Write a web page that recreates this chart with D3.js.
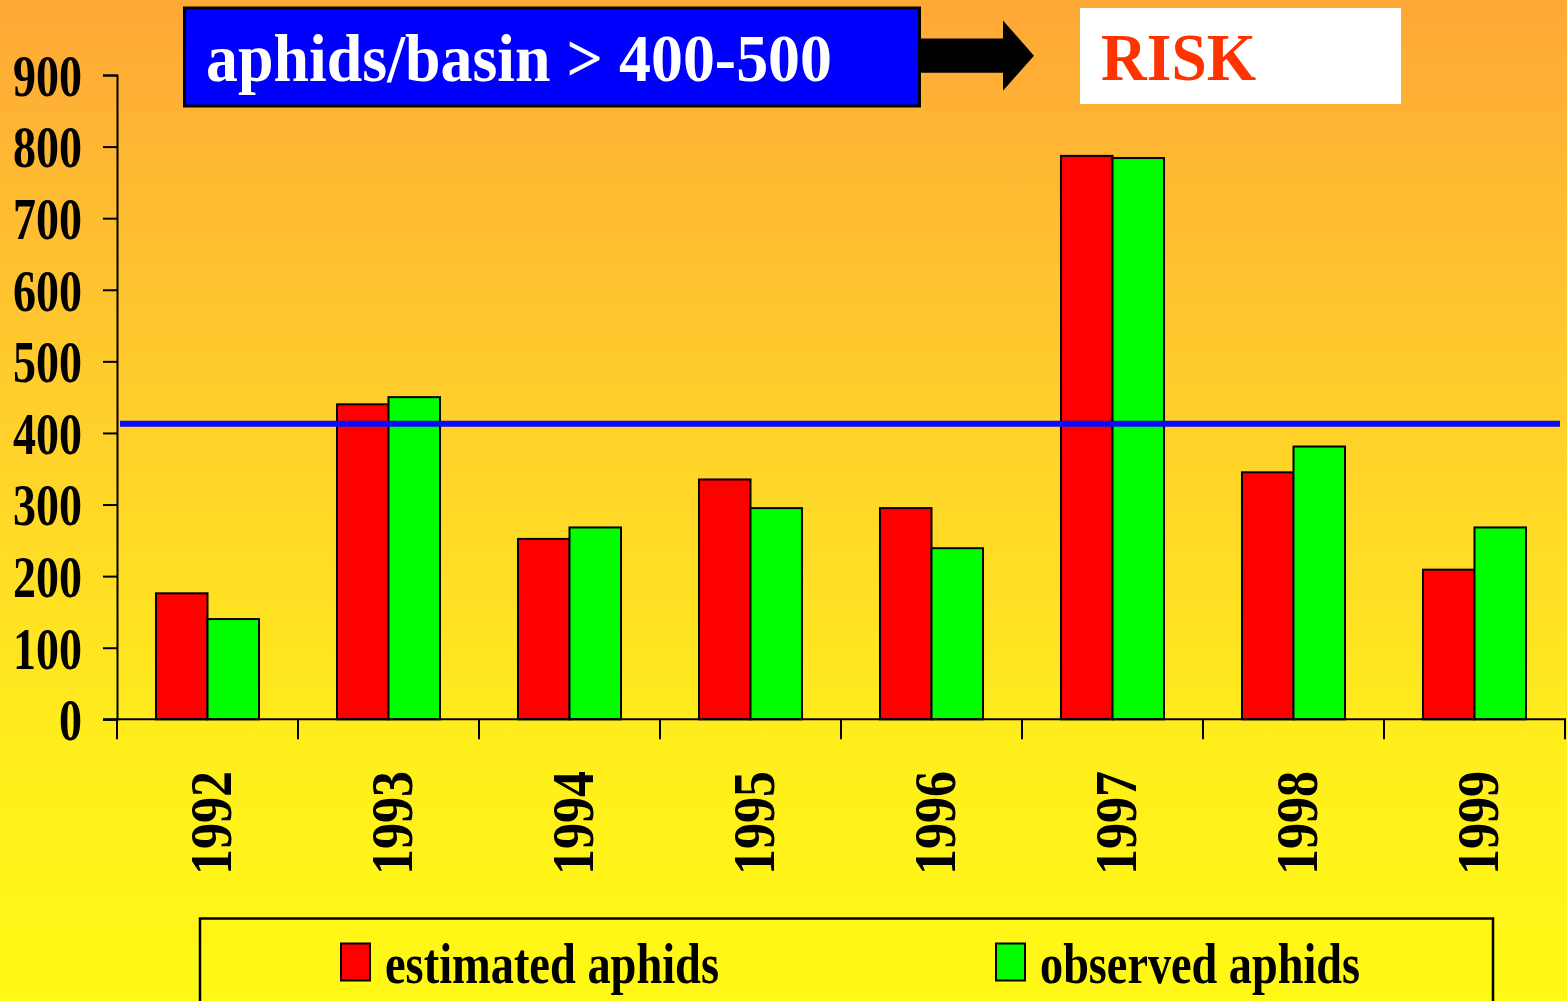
<!DOCTYPE html>
<html>
<head>
<meta charset="utf-8">
<script src="https://cdn.jsdelivr.net/npm/d3@7"></script>
<style>
  html, body { margin: 0; padding: 0; overflow: hidden; }
  svg { display: block; }
  text { font-family: "Liberation Serif", "Times New Roman", serif; font-weight: bold; }
</style>
</head>
<body>
<svg id="chart" width="1567" height="1001"></svg>
<script>
// Aphid counts per basin, estimated vs observed, 1992–1999
const years = ["1992", "1993", "1994", "1995", "1996", "1997", "1998", "1999"];
const estimated = [176, 440, 252, 335, 295, 787, 345, 209];
const observed = [140, 450, 268, 295, 239, 784, 381, 268];
const seriesNames = ["estimated aphids", "observed aphids"];
const seriesColors = ["#FF0000", "#00FF00"];
const yTicks = [0, 100, 200, 300, 400, 500, 600, 700, 800, 900];
const threshold = 413;
const titleText = "aphids/basin > 400-500";
const riskText = "RISK";

const W = 1567, H = 1001;
const svg = d3.select("#chart");

// background: orange at the top fading to yellow
const defs = svg.append("defs");
const grad = defs.append("linearGradient").attr("id", "bg").attr("x1", 0).attr("y1", 0).attr("x2", 0).attr("y2", 1);
grad.append("stop").attr("offset", "0").attr("stop-color", "#FEA837");
grad.append("stop").attr("offset", "0.42").attr("stop-color", "#FFD02B");
grad.append("stop").attr("offset", "0.75").attr("stop-color", "#FFEE1C");
grad.append("stop").attr("offset", "1").attr("stop-color", "#FFF914");
svg.append("rect").attr("width", W).attr("height", H).attr("fill", "url(#bg)");

// scales
const x = d3.scaleBand().domain(years).range([117, 1565]).padding(0);
const xs = d3.scaleBand().domain(seriesNames).range([0, x.bandwidth()]).paddingInner(0).paddingOuter(0.757);
const y = d3.scaleLinear().domain([0, 900]).range([719.3, 75]);

const rows = years.map((yr, i) => ({ year: yr, values: [estimated[i], observed[i]] }));

// bars
const groups = svg.append("g").selectAll("g").data(rows).join("g")
  .attr("transform", d => `translate(${x(d.year)},0)`);
groups.selectAll("rect").data(d => d.values.map((v, j) => ({ v, j })))
  .join("rect")
  .attr("x", d => xs(seriesNames[d.j]))
  .attr("y", d => y(d.v))
  .attr("width", xs.bandwidth())
  .attr("height", d => y(0) - y(d.v))
  .attr("fill", d => seriesColors[d.j])
  .attr("stroke", "#000")
  .attr("stroke-width", 2);

// y axis
const yAxis = svg.append("g").attr("transform", "translate(117,0)")
  .call(d3.axisLeft(y).tickValues(yTicks).tickSize(14).tickPadding(21).tickFormat(d3.format("d")));
yAxis.select(".domain").attr("stroke", "#000").attr("stroke-width", 2);
yAxis.selectAll(".tick line").attr("stroke", "#000").attr("stroke-width", 2);
yAxis.selectAll(".tick text")
  .attr("fill", "#000")
  .attr("font-size", 60)
  .attr("font-family", "Liberation Serif, serif")
  .attr("font-weight", "bold")
  .attr("dy", "0.34em")
  .attr("textLength", d => String(d).length * 23)
  .attr("lengthAdjust", "spacingAndGlyphs");

// x axis: baseline with ticks on the category boundaries
const xAxis = svg.append("g");
xAxis.append("line")
  .attr("x1", 103).attr("x2", x.range()[1] + 1)
  .attr("y1", y(0)).attr("y2", y(0))
  .attr("stroke", "#000").attr("stroke-width", 2);
const bounds = years.map(yr => x(yr)).concat([x(years[years.length - 1]) + x.bandwidth()]);
xAxis.selectAll("line.tk").data(bounds).join("line").attr("class", "tk")
  .attr("x1", d => d).attr("x2", d => d)
  .attr("y1", y(0)).attr("y2", y(0) + 20)
  .attr("stroke", "#000").attr("stroke-width", 2);
xAxis.selectAll("text").data(years).join("text")
  .attr("transform", d => `translate(${x(d) + x.bandwidth() / 2 + 3},823) rotate(-90)`)
  .attr("text-anchor", "middle")
  .attr("dy", "0.34em")
  .attr("font-size", 59)
  .attr("fill", "#000")
  .attr("textLength", 104)
  .attr("lengthAdjust", "spacingAndGlyphs")
  .text(d => d);

// threshold line
svg.append("line")
  .attr("x1", 120).attr("x2", 1560)
  .attr("y1", y(threshold)).attr("y2", y(threshold))
  .attr("stroke", "#0A0AFF").attr("stroke-width", 6);

// header: threshold box, arrow, risk box
svg.append("rect").attr("x", 184.5).attr("y", 8).attr("width", 735).attr("height", 98)
  .attr("fill", "#0000FF").attr("stroke", "#000").attr("stroke-width", 3);
svg.append("text").attr("x", 206).attr("y", 81)
  .attr("font-size", 68).attr("fill", "#FFFFFF")
  .attr("textLength", 626).attr("lengthAdjust", "spacingAndGlyphs")
  .text(titleText);

const arrow = d3.path();
arrow.moveTo(921, 38.5);
arrow.lineTo(1003, 38.5);
arrow.lineTo(1003, 20.5);
arrow.lineTo(1034, 55.7);
arrow.lineTo(1003, 90.7);
arrow.lineTo(1003, 72.7);
arrow.lineTo(921, 72.7);
arrow.closePath();
svg.append("path").attr("d", arrow.toString()).attr("fill", "#000");

svg.append("rect").attr("x", 1080).attr("y", 8).attr("width", 321).attr("height", 96).attr("fill", "#FFFFFF");
svg.append("text").attr("x", 1101).attr("y", 80)
  .attr("font-size", 68).attr("fill", "#FF3300")
  .attr("textLength", 155).attr("lengthAdjust", "spacingAndGlyphs")
  .text(riskText);

// legend
const legend = svg.append("g");
legend.append("rect").attr("x", 200).attr("y", 918.5).attr("width", 1293).attr("height", 100)
  .attr("fill", "none").attr("stroke", "#000").attr("stroke-width", 2.5);
const legendX = [341, 996];
const legendLen = [334, 320];
const items = legend.selectAll("g").data(seriesNames).join("g")
  .attr("transform", (d, i) => `translate(${legendX[i]},0)`);
items.append("rect").attr("x", 0).attr("y", 943.5).attr("width", 29).attr("height", 37)
  .attr("fill", (d, i) => seriesColors[i]).attr("stroke", "#000").attr("stroke-width", 2);
items.append("text").attr("x", 44).attr("y", 983)
  .attr("font-size", 58).attr("fill", "#000")
  .attr("textLength", (d, i) => legendLen[i]).attr("lengthAdjust", "spacingAndGlyphs")
  .text(d => d);
</script>
</body>
</html>
